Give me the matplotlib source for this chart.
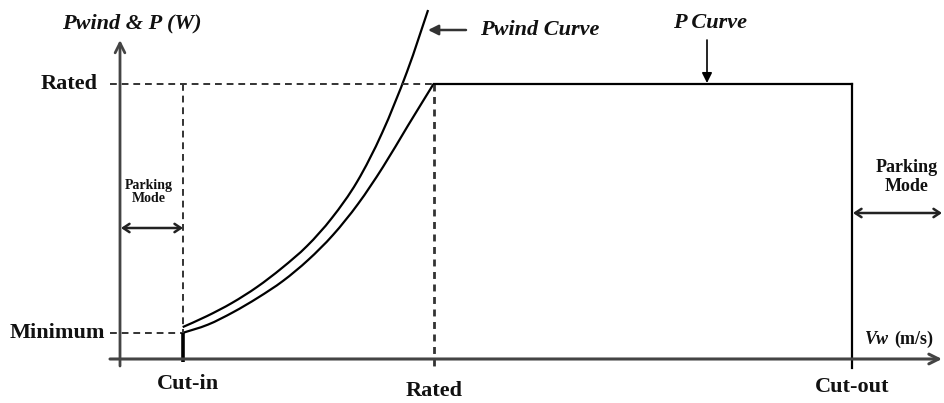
import matplotlib
matplotlib.use("Agg")
import matplotlib.pyplot as plt
from matplotlib.path import Path
from matplotlib.patches import PathPatch

# ---- data ----
V_CUTIN = 3.0
V_RATED = 15.0
V_CUTOUT = 35.0
P_MIN = 0.095
P_RATED = 1.0

# Pwind curve (upper), wind speed vs power (per unit)
pwind_v = [3.0, 4.16, 5.36, 6.56, 7.75, 8.95, 10.14, 11.34, 12.54, 13.73, 14.74]
pwind_p = [0.116, 0.156, 0.204, 0.262, 0.331, 0.411, 0.513, 0.644, 0.822, 1.044, 1.269]

# P curve (lower, below rated speed)
p_v = [3.0, 4.21, 5.41, 6.60, 7.80, 9.00, 10.19, 11.39, 12.58, 13.78, 15.0]
p_p = [0.095, 0.125, 0.170, 0.223, 0.284, 0.360, 0.451, 0.564, 0.698, 0.849, 1.0]

x_ticks = ["Cut-in", "Rated", "Cut-out"]
y_ticks = ["Minimum", "Rated"]

# ---- layout helpers ----
SX = 20.9      # px per unit speed
SY = 275.0     # px per unit power
X0, Y0 = 120.0, 359.0


def px(x, y):
    return ((x - X0) / SX, (Y0 - y) / SY)


def smooth_path(xs, ys):
    """Bezier path passing through the given points (Catmull-Rom handles)."""
    pts = list(zip(xs, ys))
    verts = [pts[0]]
    codes = [Path.MOVETO]
    n = len(pts)
    for i in range(n - 1):
        p0 = pts[i - 1] if i > 0 else pts[i]
        p1 = pts[i]
        p2 = pts[i + 1]
        p3 = pts[i + 2] if i + 2 < n else pts[i + 1]
        c1 = (p1[0] + (p2[0] - p0[0]) / 6.0, p1[1] + (p2[1] - p0[1]) / 6.0)
        c2 = (p2[0] - (p3[0] - p1[0]) / 6.0, p2[1] - (p3[1] - p1[1]) / 6.0)
        verts += [c1, c2, p2]
        codes += [Path.CURVE4] * 3
    return Path(verts, codes)


plt.rcParams['font.family'] = ['Liberation Serif', 'DejaVu Serif']

fig = plt.figure(figsize=(9.44, 4.03), dpi=100)
ax = fig.add_axes([0, 0, 1, 1])
ax.set_xlim(-X0 / SX, (944 - X0) / SX)
ax.set_ylim(-(403 - Y0) / SY, Y0 / SY)
ax.axis('off')

axis_col = '#444444'
dash_col = '#333333'
dash = (0, (3.5, 2.5))

# axes with arrows
ax.annotate('', xy=px(120, 40), xytext=px(120, 366),
            arrowprops=dict(arrowstyle='->,head_length=0.7,head_width=0.35',
                            color=axis_col, lw=2.0, shrinkA=0, shrinkB=0))
ax.annotate('', xy=px(942, 359), xytext=px(110, 359),
            arrowprops=dict(arrowstyle='->,head_length=0.7,head_width=0.35',
                            color=axis_col, lw=2.2, shrinkA=0, shrinkB=0))

x_left = px(110, 0)[0]
# dashed guide lines
ax.plot([x_left, V_RATED], [P_RATED, P_RATED], color=dash_col, lw=1.4, ls=dash)
ax.plot([x_left, V_CUTIN], [P_MIN, P_MIN], color=dash_col, lw=1.4, ls=dash)
ax.plot([V_CUTIN, V_CUTIN], [P_RATED, P_MIN], color=dash_col, lw=1.4, ls=dash)
ax.plot([V_RATED, V_RATED], [P_RATED, px(0, 370)[1]], color=dash_col, lw=2.0, ls=(0, (2.5, 2)))

# cut-in tick (solid thick)
ax.plot([V_CUTIN, V_CUTIN], [P_MIN, px(0, 362)[1]], color='black', lw=2.6, solid_capstyle='butt')

# curves (smooth through the read points)
ax.add_patch(PathPatch(smooth_path(pwind_v, pwind_p), fill=False, edgecolor='black', lw=1.6))
ax.add_patch(PathPatch(smooth_path(p_v, p_p), fill=False, edgecolor='black', lw=1.6))
ax.plot([V_RATED, V_CUTOUT], [P_RATED, P_RATED], color='black', lw=1.6)
ax.plot([V_CUTOUT, V_CUTOUT], [P_RATED, px(0, 368)[1]], color='black', lw=1.6)

bold = dict(fontweight='bold', color='#111111')
bi = dict(fontweight='bold', fontstyle='italic', color='#111111')

# y labels
ax.text(*px(98, 84), y_ticks[1], ha='right', va='center', fontsize=16, **bold)
ax.text(*px(105, 333), y_ticks[0], ha='right', va='center', fontsize=16, **bold)

# x labels
ax.text(*px(188, 384), x_ticks[0], ha='center', va='center', fontsize=16, **bold)
ax.text(*px(434, 391), x_ticks[1], ha='center', va='center', fontsize=16, **bold)
ax.text(*px(852, 387), x_ticks[2], ha='center', va='center', fontsize=16, **bold)

# axis titles
ax.text(*px(132, 23), 'Pwind & P (W)', ha='center', va='center', fontsize=16, **bi)
ax.text(*px(889, 339), 'Vw', ha='right', va='center', fontsize=13, **bi)
ax.text(*px(894, 339), '(m/s)', ha='left', va='center', fontsize=13, **bold)

# curve annotations
ax.text(*px(540, 30), 'Pwind Curve', ha='center', va='center', fontsize=16, **bi)
ax.annotate('', xy=px(428, 30), xytext=px(466, 30),
            arrowprops=dict(arrowstyle='-|>,head_length=0.6,head_width=0.3',
                            color='#333333', lw=1.8, shrinkA=0, shrinkB=0))
ax.text(*px(710, 23), 'P Curve', ha='center', va='center', fontsize=16, **bi)
ax.annotate('', xy=px(707, 83), xytext=px(707, 40),
            arrowprops=dict(arrowstyle='-|>,head_length=0.6,head_width=0.3',
                            color='black', lw=1.2, shrinkA=0, shrinkB=0))

# parking mode
ax.text(*px(149, 192), 'Parking\nMode', ha='center', va='center', fontsize=10,
        linespacing=1.1, **bold)
ax.annotate('', xy=px(121, 228), xytext=px(183, 228),
            arrowprops=dict(arrowstyle='<->,head_length=0.45,head_width=0.3',
                            color='#222222', lw=1.8, shrinkA=0, shrinkB=0))
ax.text(*px(907, 177), 'Parking\nMode', ha='center', va='center', fontsize=13,
        linespacing=1.1, **bold)
ax.annotate('', xy=px(853, 213), xytext=px(942, 213),
            arrowprops=dict(arrowstyle='<->,head_length=0.45,head_width=0.3',
                            color='#222222', lw=1.8, shrinkA=0, shrinkB=0))

fig.savefig('out.png', dpi=100)
